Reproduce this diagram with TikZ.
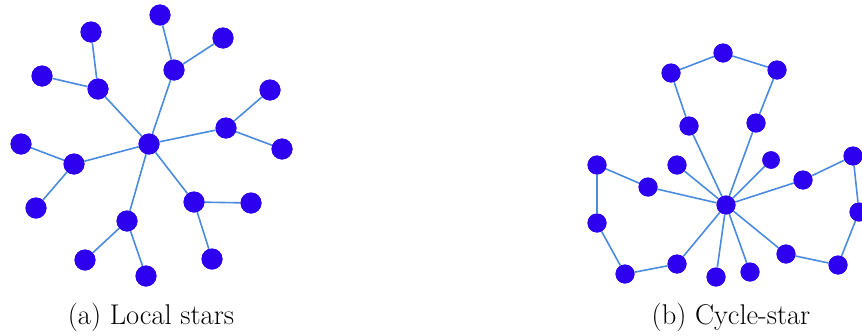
\documentclass[tikz,border=0pt]{standalone}
\usepackage{fontspec}
\usepackage{tikz}
\usetikzlibrary{positioning}
\definecolor{vblue}{RGB}{46,0,240}
\definecolor{eblue}{RGB}{74,139,223}
\tikzset{
  vtx/.style={circle,fill=vblue,draw=none,inner sep=0pt,minimum size=21pt},
  svtx/.style={vtx,minimum size=19pt},
  tvtx/.style={vtx,minimum size=17.5pt},
  edg/.style={eblue,line width=1.6pt},
  capt/.style={font=\fontsize{28.5}{34}\selectfont,anchor=base}
}

\begin{document}
\begin{tikzpicture}[x=1pt,y=-1pt]
\useasboundingbox (0,0) rectangle (862,335);
% (a) local stars
\node[vtx] (c) at (149,144) {};
\foreach \n/\x/\y in {h1/98/89,h2/174/70,h3/226/128,h4/194/202,h5/127/221,h6/74/164}
  \node[vtx] (\n) at (\x,\y) {};
\foreach \n/\x/\y in {l1/91/32,l2/42/76,l3/160/15,l4/223/38,l5/270/90,l6/282/149,
  l7/251/203,l8/212/259,l9/85/260,l10/146/276,l11/21/144,l12/36/208}
  \node[vtx] (\n) at (\x,\y) {};
\foreach \h/\a/\b in {h1/l1/l2,h2/l3/l4,h3/l5/l6,h4/l7/l8,h5/l9/l10,h6/l11/l12}
  {\draw[edg] (c) -- (\h); \draw[edg] (\h) -- (\a); \draw[edg] (\h) -- (\b);}
\node[capt] (capa) at (151,324) {(a) Local stars};
% (b) cycle-star
\node[svtx] (s) at (726,205) {};
\foreach \n/\x/\y in {t1/689/126,t2/671/73,t3/723/53,t4/777/70,t5/756/123,
  u1/648/187,u2/597/165,u3/597/223,u4/625/274,u5/677/264,
  w1/803/180,w2/853/156,w3/859/212,w4/838/265,w5/786/254,
  p1/677/165,p3/716/277,p4/750/272}
  \node[svtx] (\n) at (\x,\y) {};
\node[tvtx] (p2) at (771,160) {};
% cycles through the hub
\foreach \q in {t,u,w}
  {\draw[edg] (s) -- (\q1) -- (\q2) -- (\q3) -- (\q4) -- (\q5) -- (s);}
% pendant leaves
\foreach \p in {p1,p2,p3,p4}
  \draw[edg] (s) -- (\p);
% redraw vertices over the edges
\foreach \n in {s,t1,t2,t3,t4,t5,u1,u2,u3,u4,u5,w1,w2,w3,w4,w5,p1,p3,p4}
  \node[svtx] at (\n) {};
\node[tvtx] at (p2) {};
\foreach \n in {c,h1,h2,h3,h4,h5,h6,l1,l2,l3,l4,l5,l6,l7,l8,l9,l10,l11,l12}
  \node[vtx] at (\n) {};
\node[capt] (capb) at (731,324) {(b) Cycle-star};
\end{tikzpicture}
\end{document}
